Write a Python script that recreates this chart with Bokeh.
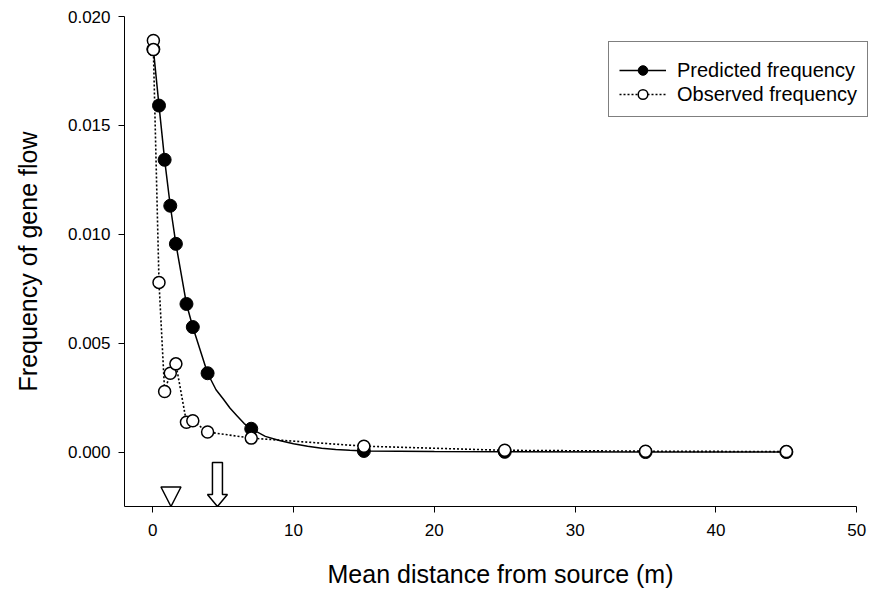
import numpy as np
from bokeh.plotting import figure
from bokeh.models import Range1d, Legend, LegendItem, FixedTicker, PrintfTickFormatter
from bokeh.embed import file_html
from bokeh.resources import INLINE

# ---- data ----
pred_x = [0.05, 0.45, 0.85, 1.25, 1.65, 2.4, 2.85, 3.9, 7, 15, 25, 35, 45]
pred_y = [0.01850, 0.01591, 0.01342, 0.01131, 0.00956, 0.00680, 0.00574, 0.00362,
          0.00107, 0.00005, 0.00001, 0.0, 0.0]

obs_x = [0.05, 0.05, 0.45, 0.85, 1.25, 1.65, 2.4, 2.85, 3.9, 7, 15, 25, 35, 45]
obs_y = [0.01890, 0.01848, 0.00779, 0.00278, 0.00362, 0.00405, 0.00137, 0.00144,
         0.00092, 0.00064, 0.00027, 0.00008, 0.00004, 0.00002]

# smooth predicted curve
curve_x = [0.05, 0.45, 0.85, 1.25, 1.65, 2.4, 2.85, 3.9, 4.5, 5, 5.5, 6, 6.5, 7,
           8, 9, 10, 11, 12, 13, 14, 15, 20, 25, 35, 45]
curve_y = [0.01850, 0.01591, 0.01342, 0.01131, 0.00956, 0.00680, 0.00574, 0.00362,
           0.00286, 0.00245, 0.00201, 0.00166, 0.00131, 0.00107,
           0.00072, 0.00053, 0.00038, 0.00027, 0.00018, 0.00012, 0.00008, 0.00005,
           0.00002, 0.00001, 0.0, 0.0]

x_ticks = [0, 10, 20, 30, 40, 50]
y_ticks = [0.0, 0.005, 0.010, 0.015, 0.020]

mean_obs_distance = 1.3    # open triangle marker
mean_pred_distance = 4.6   # open arrow marker

# ---- figure ----
X0, X1 = -2.0, 51.4
Y0, Y1 = -0.0025, 0.020
FW, FH = 752, 490
FONT = "Liberation Sans"

p = figure(width=880, height=590,
           x_range=Range1d(X0, X1), y_range=Range1d(Y0, Y1),
           output_backend="svg", toolbar_location=None,
           min_border_left=124, min_border_right=4,
           min_border_top=16, min_border_bottom=84)
p.outline_line_color = None
p.grid.visible = False
p.background_fill_color = "white"
p.border_fill_color = "white"

for ax in (p.xaxis[0], p.yaxis[0]):
    ax.axis_line_color = "black"
    ax.axis_line_width = 1
    ax.major_tick_line_color = "black"
    ax.major_tick_in = 0
    ax.major_tick_out = 6
    ax.minor_tick_line_color = None
    ax.major_label_text_font = FONT
    ax.major_label_text_font_size = "17px"
    ax.major_label_text_color = "black"
    ax.axis_label_text_font = FONT
    ax.axis_label_text_font_style = "normal"
    ax.axis_label_text_color = "black"
    ax.axis_label_text_font_size = "25px"

p.xaxis.bounds = (X0, 50)
p.xaxis.ticker = FixedTicker(ticks=x_ticks)
p.yaxis.ticker = FixedTicker(ticks=y_ticks)
p.yaxis.formatter = PrintfTickFormatter(format="%.3f")
p.xaxis.major_label_standoff = 11
p.yaxis.major_label_standoff = 8
p.xaxis.axis_label = "Mean distance from source (m)"
p.yaxis.axis_label = "Frequency of gene flow"
p.xaxis.axis_label_standoff = 21
p.yaxis.axis_label_standoff = 23

# ---- series ----
curve = p.line(curve_x, curve_y, line_color="black", line_width=1.5)
pred_pts = p.scatter(pred_x, pred_y, marker="circle", size=13,
                     fill_color="black", line_color="black", line_width=1)
obs_line = p.line(obs_x, obs_y, line_color="black", line_width=1.6, line_dash="2 2")
obs_pts = p.scatter(obs_x, obs_y, marker="circle", size=12,
                    fill_color="white", line_color="black", line_width=1.5)

# ---- triangle and arrow markers under the axis ----
dx = (X1 - X0) / FW
dy = (Y1 - Y0) / FH
t = mean_obs_distance
p.patch([t - 10 * dx, t + 10 * dx, t], [Y0 + 19.5 * dy, Y0 + 19.5 * dy, Y0],
        fill_color="white", line_color="black", line_width=1.5)
a = mean_pred_distance
p.patch([a - 5 * dx, a + 5 * dx, a + 5 * dx, a + 10 * dx, a, a - 10 * dx, a - 5 * dx],
        [Y0 + 44 * dy, Y0 + 44 * dy, Y0 + 12 * dy, Y0 + 12 * dy, Y0, Y0 + 12 * dy, Y0 + 12 * dy],
        fill_color="white", line_color="black", line_width=1.5)

# ---- legend ----
legend = Legend(items=[
    LegendItem(label="Predicted frequency", renderers=[curve, pred_pts]),
    LegendItem(label="Observed frequency", renderers=[obs_line, obs_pts]),
], location=(484, 389))
legend.margin = 0
legend.padding = 10
legend.spacing = 0
legend.title = " "
legend.title_text_font_size = "6px"
legend.title_standoff = 0
legend.glyph_width = 47
legend.glyph_height = 24
legend.label_height = 20
legend.label_standoff = 11
legend.label_text_font = FONT
legend.label_text_font_size = "20px"
legend.label_text_color = "black"
legend.border_line_color = "black"
legend.border_line_width = 1
legend.background_fill_color = "white"
legend.background_fill_alpha = 1
p.add_layout(legend, "center")

open("out.html", "w").write(file_html(p, INLINE))
